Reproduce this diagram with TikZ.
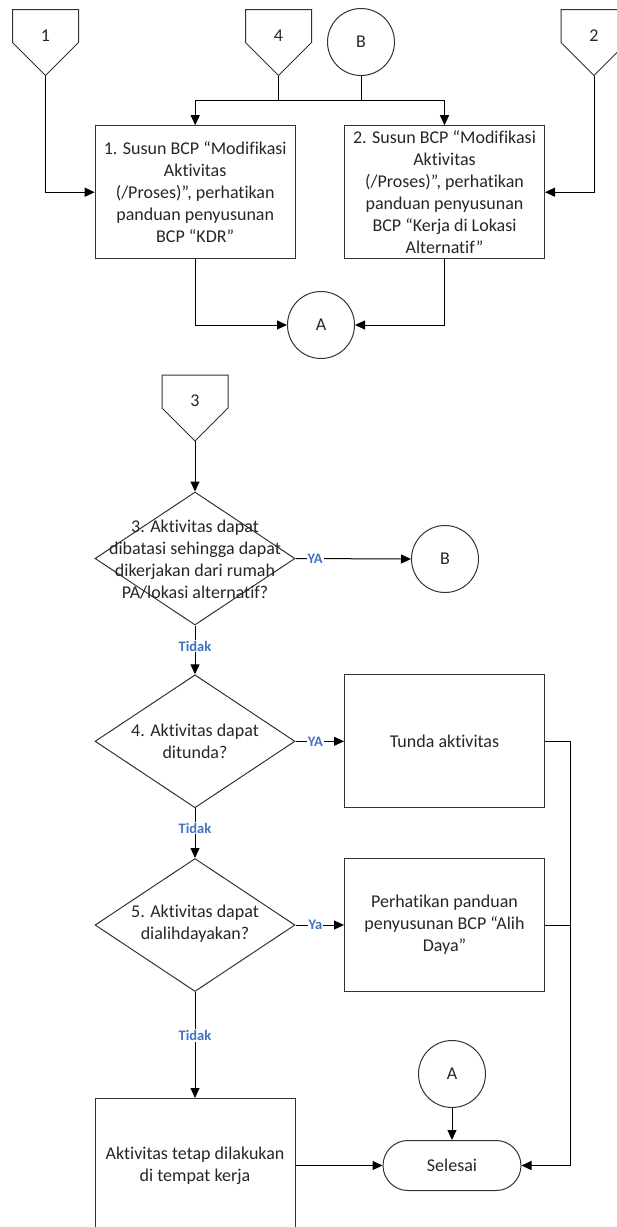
\documentclass[tikz,border=0pt]{standalone}
\usepackage{fontspec}
\setmainfont[RawFeature={-liga;-clig;-dlig}]{Carlito}
\usetikzlibrary{shapes.geometric,arrows.meta}
\definecolor{lblue}{HTML}{4472C4}
\definecolor{txtc}{HTML}{262626}
\newcommand\offpg[4]{%
  \draw[shp] (#2-33,#3) -- (#2+33,#3) -- (#2+33,#3+33) -- (#2,#3+66) -- (#2-33,#3+33) -- cycle;
  \node[txt] (#1) at (#2,#3+26) {#4};
  \coordinate (#1tip) at (#2,#3+66);}
\begin{document}
\begin{tikzpicture}[x=1pt,y=-1pt,
  mainfont/.style={font=\fontsize{18}{22}\selectfont},
  shp/.style={draw=black!80, line width=1pt},
  txt/.style={mainfont, align=center, text=txtc, inner sep=0pt},
  box/.style={shp, rectangle, minimum width=200pt, minimum height=133pt, inner sep=0pt, txt},
  dia/.style={shp, diamond, minimum width=200pt, minimum height=133pt, inner sep=0pt},
  conn/.style={shp, circle, minimum size=67pt, inner sep=0pt, txt},
  term/.style={shp, rectangle, rounded corners=25pt, minimum width=138pt, minimum height=50pt, inner sep=0pt, txt},
  lbl/.style={fill=white, text=lblue, font=\bfseries\fontsize{14.5}{16}\selectfont, inner sep=1pt},
  ln/.style={line width=1pt, draw=black},
  arr/.style={ln, -{Triangle[length=10pt,width=9pt]}}]
\useasboundingbox (0,0) rectangle (617,1227);
\clip (0,0) rectangle (617,1227);

% top section
\offpg{c1}{45.5}{9.5}{1}
\offpg{c4}{278.5}{9.5}{4}
\offpg{c2}{594}{9.5}{2}
\node[conn] (B1) at (361,42) {B};
\node[box] (b1) at (195.2,192.2) {1. Susun BCP “Modifikasi\\Aktivitas\\(/Proses)”, perhatikan\\panduan penyusunan\\BCP “KDR”};
\node[box] (b2) at (444.5,192.2) {2. Susun BCP “Modifikasi\\Aktivitas\\(/Proses)”, perhatikan\\panduan penyusunan\\BCP “Kerja di Lokasi\\Alternatif”};
\node[conn] (A1) at (321,325) {A};

\coordinate (jl) at (195.2,100);
\coordinate (jr) at (444.5,100);
\draw[ln] (c4tip) -- (c4tip |- jl);
\draw[ln] (B1.south) -- (B1.south |- jl);
\draw[ln] (jl) -- (jr);
\draw[arr] (jl) -- (b1.north);
\draw[arr] (jr) -- (b2.north);
\draw[arr] (c1tip) |- (b1.west);
\draw[arr] (c2tip) |- (b2.east);
\draw[arr] (b1.south) |- (A1.west);
\draw[arr] (b2.south) |- (A1.east);

% lower section
\offpg{c3}{195}{375}{3}
\node[dia] (d3) at (195,558.5) {};
\node[txt] (d3t) at (195,560) {3. Aktivitas dapat\\dibatasi sehingga dapat\\dikerjakan dari rumah\\PA/lokasi alternatif?};
\node[conn] (B2) at (445,559) {B};

\node[dia] (d4) at (195,741.3) {};
\node[txt] (d4t) at (195,741.5) {4. Aktivitas dapat\\ditunda?};
\node[box] (tunda) at (444.5,741.3) {Tunda aktivitas};

\node[dia] (d5) at (195,925) {};
\node[txt] (d5t) at (195,924) {5. Aktivitas dapat\\dialihdayakan?};
\node[box] (alih) at (444.5,925) {Perhatikan panduan\\penyusunan BCP “Alih\\Daya”};

\node[box, minimum height=134pt] (tetap) at (195,1165.5) {Aktivitas tetap dilakukan\\di tempat kerja};
\node[term] (sel) at (452,1165.5) {Selesai};
\node[conn] (A2) at (452,1074) {A};

\draw[arr] (c3tip) -- (d3.north);
\draw[arr] (d3.east) -- node[lbl,pos=0.17] (ya1) {YA} (B2.west);
\draw[arr] (d3.south) -- node[lbl,pos=0.42] (t1) {Tidak} (d4.north);
\draw[arr] (d4.east) -- node[lbl,pos=0.41] (ya2) {YA} (tunda.west);
\draw[arr] (d4.south) -- node[lbl,pos=0.4] (t2) {Tidak} (d5.north);
\draw[arr] (d5.east) -- node[lbl,pos=0.41] (ya3) {Ya} (alih.west);
\draw[arr] (d5.south) -- node[lbl,pos=0.41] (t3) {Tidak} (tetap.north);
\draw[arr] (tetap.east) -- (sel.west);
\draw[arr] (A2.south) -- (sel.north);
\coordinate (rr) at (570,741.3);
\draw[arr] (tunda.east) -- (rr) |- (sel.east);
\draw[ln] (alih.east) -- (alih.east -| rr);
\end{tikzpicture}
\end{document}
